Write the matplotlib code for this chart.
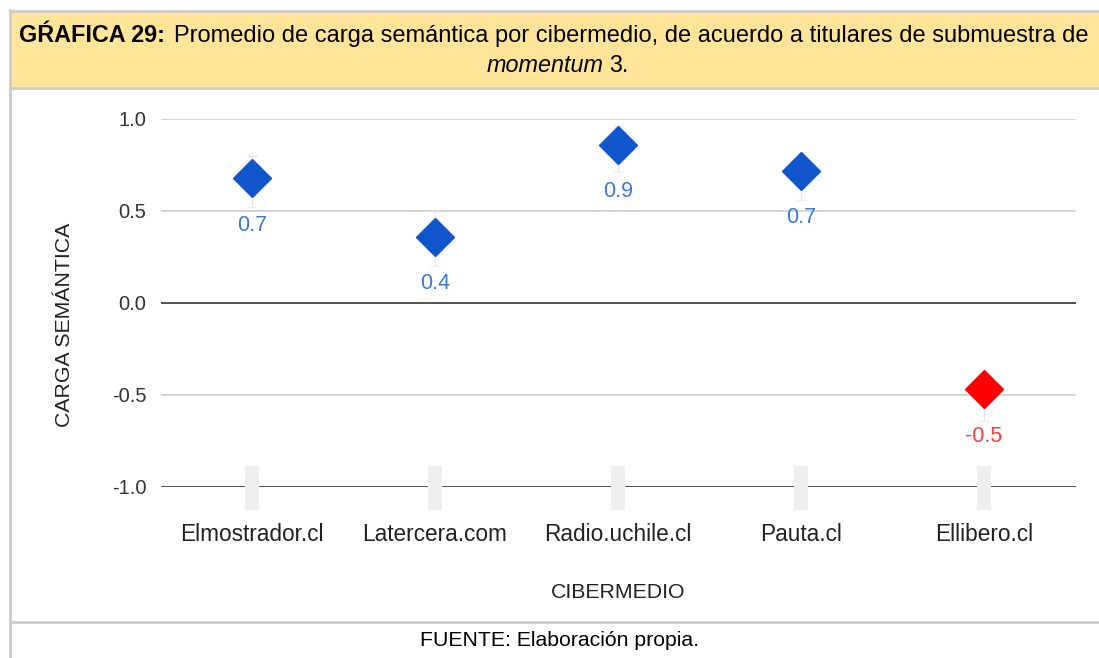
import numpy as np
import matplotlib
matplotlib.use('Agg')
import matplotlib.pyplot as plt
from matplotlib.patches import Rectangle

plt.rcParams['font.family'] = ['Liberation Sans', 'DejaVu Sans']

# Datos
cibermedios = ['Elmostrador.cl', 'Latercera.com', 'Radio.uchile.cl', 'Pauta.cl', 'Ellibero.cl']
promedio = [0.68, 0.36, 0.86, 0.72, -0.47]
etiquetas = ['0.7', '0.4', '0.9', '0.7', '-0.5']
int_bajo = [0.52, 0.20, 0.71, 0.56, -0.64]
int_alto = [0.80, 0.50, 0.96, 0.80, -0.40]
caja_bajo = [-1.125, -1.125, -1.125, -1.125, -1.125]
caja_alto = [-0.886, -0.886, -0.886, -0.886, -0.886]
y_ticks = [1.0, 0.5, 0.0, -0.5, -1.0]

azul = '#1155cc'
rojo = '#ff0000'
colores = [azul if v >= 0 else rojo for v in promedio]
colores_txt = ['#3c78d8' if v >= 0 else '#ff3b3b' for v in promedio]

W, H = 1099, 658
fig = plt.figure(figsize=(W / 100, H / 100), dpi=100)

# Marco, encabezado amarillo y pie
fig.patches.append(Rectangle((12 / W, 1 - 87 / H), 1, 75 / H, transform=fig.transFigure,
                             facecolor='#ffe599', edgecolor='none', zorder=0))
gris = '#cccccc'
fig.add_artist(plt.Line2D([10 / W, 10 / W], [0, 1 - 10 / H], transform=fig.transFigure, color=gris, lw=2))
fig.add_artist(plt.Line2D([10 / W, 1], [1 - 11 / H, 1 - 11 / H], transform=fig.transFigure, color=gris, lw=2))
fig.add_artist(plt.Line2D([10 / W, 1], [1 - 88 / H, 1 - 88 / H], transform=fig.transFigure, color=gris, lw=2))
fig.add_artist(plt.Line2D([10 / W, 1], [1 - 622 / H, 1 - 622 / H], transform=fig.transFigure, color=gris, lw=2))

# Título
t1 = fig.text(19 / W, 1 - 36 / H, 'GŔAFICA 29:', fontsize=16.8, fontweight='bold', va='center', ha='left')
fig.canvas.draw()
bb = t1.get_window_extent()
fig.text(bb.x1 / W + 9 / W, 1 - 36 / H,
         'Promedio de carga semántica por cibermedio, de acuerdo a titulares de submuestra de',
         fontsize=17.0, va='center', ha='left')
fig.text(604 / W, 1 - 66 / H, 'momentum', fontsize=16.8, style='italic', va='center', ha='right')
fig.text(609 / W, 1 - 66 / H, '3.', fontsize=16.8, va='center', ha='left')

fig.text(560 / W, 1 - 641 / H, 'FUENTE: Elaboración propia.', fontsize=15.3, ha='center', va='center')

# Área del gráfico
ax = fig.add_axes([160.5 / W, 1 - 487 / H, 915 / W, 368 / H])
x = np.arange(len(cibermedios))
ax.set_xlim(-0.5, len(cibermedios) - 0.5)
ax.set_ylim(-1.0, 1.0)

for yv in y_ticks:
    if yv in (0.0, -1.0):
        ax.axhline(yv, color='#333333', lw=1.2, zorder=1)
    else:
        ax.axhline(yv, color='#cccccc', lw=1.2, zorder=1)

# cajas grises sobre el eje
for xi, lo, hi in zip(x, caja_bajo, caja_alto):
    ax.add_patch(Rectangle((xi - 0.039, lo), 0.078, hi - lo, facecolor='#eeeeee',
                           edgecolor='none', zorder=3, clip_on=False))

# intervalos tenues
ax.vlines(x, int_bajo, int_alto, color='#e6e6e6', lw=1, zorder=2)
ax.hlines(int_alto, x - 0.03, x + 0.03, color='#e3e3e3', lw=1, zorder=2)
ax.hlines(int_bajo, x - 0.03, x + 0.03, color='#eeeeee', lw=1, zorder=2)

for xi, v, c, ct, lab in zip(x, promedio, colores, colores_txt, etiquetas):
    ax.plot(xi, v, marker='D', ms=19, color=c, mec=c, zorder=4, clip_on=False)
    ax.annotate(lab, (xi, v), xytext=(0, -34), textcoords='offset points',
                ha='center', va='center', fontsize=15.5, color=ct, zorder=5)

for s in ax.spines.values():
    s.set_visible(False)
ax.set_yticks(y_ticks)
ax.set_yticklabels([f'{v:.1f}' for v in y_ticks])
ax.set_xticks(x)
ax.set_xticklabels(cibermedios)
ax.tick_params(axis='y', length=0, pad=10, labelsize=14.5, labelcolor='#333333')
ax.tick_params(axis='x', length=0, pad=26, labelsize=16.3, labelcolor='#222222')
ax.patch.set_alpha(0)

fig.text(65 / W, 1 - 325 / H, 'CARGA SEMÁNTICA', rotation=90, fontsize=15.3,
         ha='center', va='center', color='#222222')
fig.text(618 / W, 1 - 592 / H, 'CIBERMEDIO', fontsize=15.3, ha='center', va='center', color='#222222')

fig.savefig('out.png', dpi=100)
